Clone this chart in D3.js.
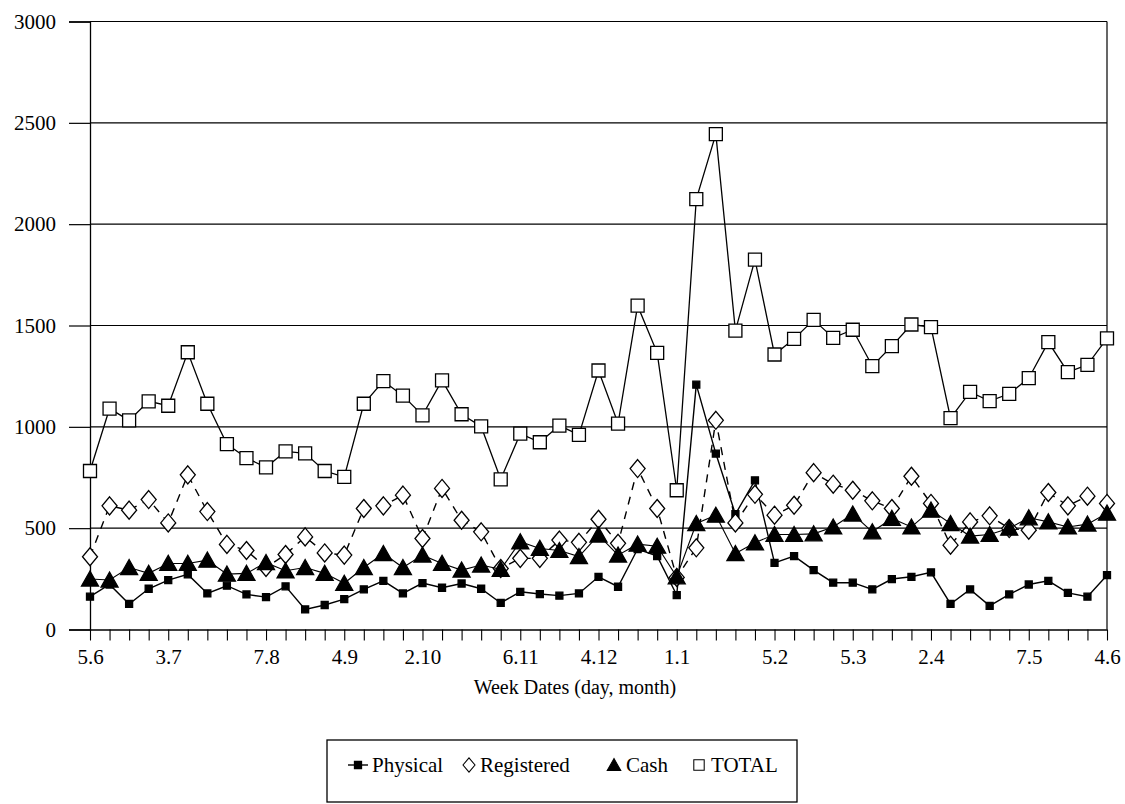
<!DOCTYPE html>
<html>
<head>
<meta charset="utf-8">
<script src="https://cdn.jsdelivr.net/npm/d3@7"></script>
<style>
  html, body { margin: 0; padding: 0; background: #fff; }
  svg { display: block; }
  text { font-family: "Liberation Serif", "Times New Roman", serif; fill: #000; }
</style>
</head>
<body>
<svg id="chart" width="1125" height="804"></svg>
<script>
// ---------- data ----------
const weeks = ["5.6","12.6","19.6","26.6","3.7","10.7","17.7","24.7","31.7","7.8","14.8","21.8","28.8",
  "4.9","11.9","18.9","25.9","2.10","9.10","16.10","23.10","30.10","6.11","13.11","20.11","27.11",
  "4.12","11.12","18.12","25.12","1.1","8.1","15.1","22.1","29.1","5.2","12.2","19.2","26.2",
  "5.3","12.3","19.3","26.3","2.4","9.4","16.4","23.4","30.4","7.5","14.5","21.5","28.5","4.6"];
const shownLabels = ["5.6","3.7","7.8","4.9","2.10","6.11","4.12","1.1","5.2","5.3","2.4","7.5","4.6"];
const yTicks = [0, 500, 1000, 1500, 2000, 2500, 3000];

const physical = [162,222,126,201,244,272,178,216,173,160,213,99,121,
  150,198,240,178,229,206,227,201,131,186,175,167,178,
  260,211,397,362,170,1208,868,569,736,329,362,293,231,
  231,198,249,260,282,126,198,117,173,222,240,181,162,268];
const registered = [359,610,589,641,526,763,582,420,390,306,370,457,378,
  367,597,610,663,449,696,539,482,301,351,351,441,430,
  544,425,794,597,257,403,1032,526,667,564,613,774,717,
  687,635,597,756,622,416,531,561,498,490,676,610,658,622];
const cash = [249,244,306,277,326,326,342,273,277,330,290,306,277,
  228,306,375,306,367,326,293,318,297,433,400,390,360,
  466,367,421,411,260,523,564,375,428,469,469,472,506,
  570,482,548,506,589,523,461,469,500,551,531,506,520,574];
const total = [782,1090,1032,1126,1104,1368,1114,915,846,800,879,869,782,
  753,1114,1226,1154,1057,1229,1062,1002,741,966,924,1006,960,
  1278,1016,1598,1365,687,2124,2444,1475,1825,1357,1434,1528,1439,
  1479,1300,1398,1505,1492,1043,1172,1127,1163,1240,1418,1270,1306,1436];

const seriesNames = ["Physical", "Registered", "Cash", "TOTAL"];

// ---------- layout ----------
const svg = d3.select("#chart");
svg.append("rect").attr("width", 1125).attr("height", 804).attr("fill", "#fff");

const x = d3.scalePoint().domain(weeks).range([90, 1107]);
const y = d3.scaleLinear().domain([0, 3000]).range([629.5, 21.5]);

const FONT = 21;

// gridlines
svg.append("g").selectAll("line").data(yTicks.filter(d => d > 0)).join("line")
  .attr("x1", 90).attr("x2", 1107)
  .attr("y1", d => y(d)).attr("y2", d => y(d))
  .attr("stroke", "#000").attr("stroke-width", 1.2);

// right border
svg.append("line").attr("x1", 1107).attr("x2", 1107).attr("y1", y(3000)).attr("y2", y(0))
  .attr("stroke", "#000").attr("stroke-width", 1.2);

// y axis
const yAxis = svg.append("g").attr("transform", "translate(90,0)")
  .call(d3.axisLeft(y).tickValues(yTicks).tickSize(21).tickPadding(13).tickFormat(d3.format("d")));
yAxis.select(".domain").attr("stroke", "#000").attr("stroke-width", 1.3);
yAxis.selectAll(".tick line").attr("stroke", "#000").attr("stroke-width", 1.2);
yAxis.selectAll("text").attr("font-size", FONT).attr("font-family", "Liberation Serif").attr("fill", "#000");

// x axis
const xAxis = svg.append("g").attr("transform", `translate(0,${y(0)})`)
  .call(d3.axisBottom(x).tickSize(11).tickSizeOuter(0).tickPadding(9)
    .tickFormat(d => shownLabels.includes(d) ? d : ""));
xAxis.select(".domain").attr("stroke", "#000").attr("stroke-width", 1.3);
xAxis.selectAll(".tick line").attr("stroke", "#000").attr("stroke-width", 1.1);
xAxis.selectAll("text").attr("font-size", FONT).attr("font-family", "Liberation Serif").attr("fill", "#000");

// axis title
svg.append("text").attr("x", 575).attr("y", 694).attr("text-anchor", "middle")
  .attr("font-size", 20).text("Week Dates (day, month)");

// ---------- series ----------
const line = d3.line().x((d, i) => x(weeks[i])).y(d => y(d));
const plot = svg.append("g");

function drawLine(data, dash, width) {
  plot.append("path").datum(data).attr("d", line)
    .attr("fill", "none").attr("stroke", "#000").attr("stroke-width", width)
    .attr("stroke-dasharray", dash);
}

const markerPaths = {
  Physical: "M-3.5,-3.5H3.5V3.5H-3.5Z",
  Registered: "M0,-9L7.5,0L0,9L-7.5,0Z",
  Cash: "M0,-8L8.5,7L-8.5,7Z",
  TOTAL: "M-6.5,-6.5H6.5V6.5H-6.5Z"
};
const markerFill = { Physical: "#000", Registered: "#fff", Cash: "#000", TOTAL: "#fff" };

function drawMarkers(data, name) {
  plot.append("g").selectAll("path").data(data).join("path")
    .attr("transform", (d, i) => `translate(${x(weeks[i])},${y(d)})`)
    .attr("d", markerPaths[name])
    .attr("fill", markerFill[name]).attr("stroke", "#000").attr("stroke-width", 1.3);
}

drawLine(physical, null, 1.4); drawMarkers(physical, "Physical");
drawLine(registered, "8,7", 1.4); drawMarkers(registered, "Registered");
drawLine(cash, null, 1.1); drawMarkers(cash, "Cash");
drawLine(total, null, 1.3); drawMarkers(total, "TOTAL");

// ---------- legend ----------
const lg = svg.append("g");
lg.append("rect").attr("x", 327).attr("y", 740).attr("width", 470).attr("height", 62)
  .attr("fill", "#fff").attr("stroke", "#000").attr("stroke-width", 1.3);
const legendItems = [
  { name: seriesNames[0], mx: 358, tx: 372 },
  { name: seriesNames[1], mx: 469, tx: 480 },
  { name: seriesNames[2], mx: 614, tx: 626 },
  { name: seriesNames[3], mx: 699, tx: 711 }
];
const ly = 765;
legendItems.forEach(it => {
  if (it.name === "Physical") {
    lg.append("line").attr("x1", it.mx - 10).attr("x2", it.mx + 10).attr("y1", ly).attr("y2", ly)
      .attr("stroke", "#000").attr("stroke-width", 1.4);
  }
  const scale = it.name === "Physical" ? 1 : 0.8;
  lg.append("path").attr("transform", `translate(${it.mx},${ly}) scale(${scale})`)
    .attr("d", markerPaths[it.name]).attr("fill", markerFill[it.name])
    .attr("stroke", "#000").attr("stroke-width", 1.3);
  lg.append("text").attr("x", it.tx).attr("y", ly + 7).attr("font-size", FONT).text(it.name);
});
</script>
</body>
</html>
